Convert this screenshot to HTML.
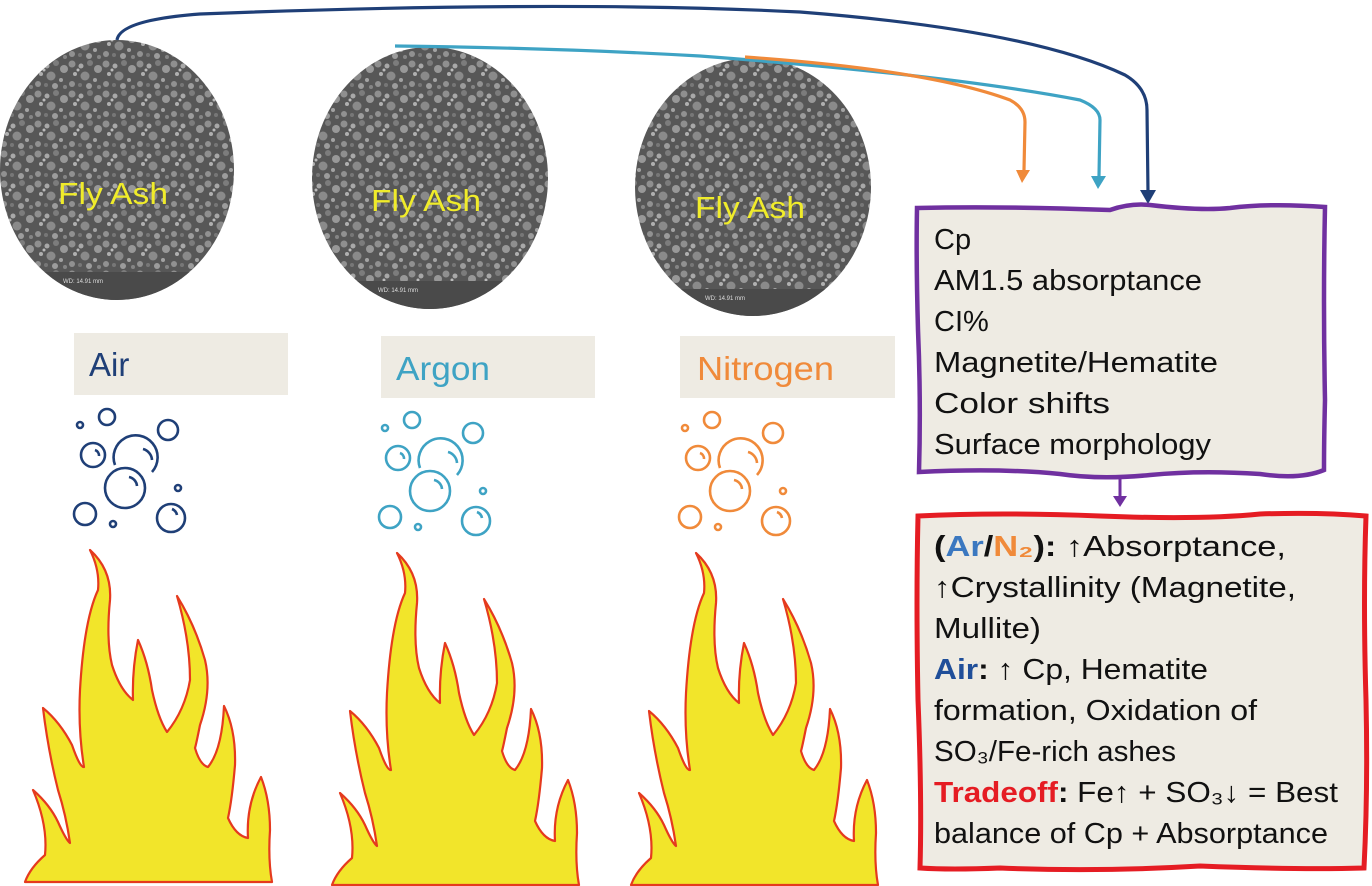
<!DOCTYPE html>
<html><head><meta charset="utf-8"><style>
html,body{margin:0;padding:0;background:#fff;}
svg{display:block;}
text{font-family:"Liberation Sans",sans-serif;}
</style></head><body>
<svg width="1372" height="886" viewBox="0 0 1372 886" xmlns="http://www.w3.org/2000/svg">
<defs>
<pattern id="sem" width="34" height="30" patternUnits="userSpaceOnUse">
<rect width="34" height="30" fill="#575757"/>
<circle cx="4" cy="4" r="3.5" fill="#8f8f8f"/>
<circle cx="13" cy="6" r="2.5" fill="#a8a8a8"/>
<circle cx="22" cy="3" r="3" fill="#7c7c7c"/>
<circle cx="30" cy="9" r="4" fill="#989898"/>
<circle cx="7" cy="14" r="2" fill="#b0b0b0"/>
<circle cx="17" cy="16" r="4.5" fill="#8a8a8a"/>
<circle cx="27" cy="20" r="2" fill="#a3a3a3"/>
<circle cx="4" cy="24" r="3" fill="#919191"/>
<circle cx="12" cy="25" r="2" fill="#777"/>
<circle cx="21" cy="26" r="3" fill="#9c9c9c"/>
<circle cx="31" cy="27" r="2" fill="#858585"/>
<circle cx="10" cy="10" r="1.5" fill="#bbb"/>
</pattern>
<g id="flame">
<path d="M25,882 Q30,868 45,855 Q48,825 33,790 Q50,805 58,822 Q66,840 70,843 Q66,815 58,790 Q48,750 43,708 Q60,722 72,745 Q80,768 84,767 Q78,730 80,690 Q84,620 98,590 Q100,570 90,550 Q112,570 110,600 Q106,640 112,665 Q120,690 133,700 Q132,670 138,640 Q148,662 152,690 Q158,718 167,732 Q185,710 190,680 Q190,640 177,596 Q195,625 205,660 Q212,690 200,725 Q196,745 195,748 Q200,765 208,767 Q222,750 224,706 Q236,730 235,765 Q232,800 228,818 Q236,836 248,838 Q246,805 261,777 Q270,800 270,830 Q268,860 272,882 Z" fill="#f2e52a" stroke="#e53a1e" stroke-width="2.2" stroke-linejoin="round"/>
</g>
<g id="bub" fill="none" stroke-width="2.6">
<circle cx="80" cy="425" r="3"/>
<circle cx="107" cy="417" r="8"/>
<circle cx="168" cy="430" r="10"/>
<circle cx="93" cy="455" r="12"/>
<path d="M115,465 A22,22 0 1 1 152,472"/>
<circle cx="125" cy="488" r="20"/>
<circle cx="178" cy="488" r="3"/>
<circle cx="85" cy="514" r="11"/>
<circle cx="113" cy="524" r="3"/>
<circle cx="171" cy="518" r="14"/>
<path d="M95,450 A6,6 0 0 1 99,456"/>
<path d="M143,449 A12,12 0 0 1 152,460"/>
<path d="M129,477 A10,10 0 0 1 137,486"/>
<path d="M172,509 A8,8 0 0 1 177,515"/>
</g>
<clipPath id="c1"><ellipse cx="117" cy="170" rx="117" ry="130"/></clipPath>
<clipPath id="c2"><ellipse cx="430" cy="178" rx="118" ry="131"/></clipPath>
<clipPath id="c3"><ellipse cx="753" cy="187" rx="118" ry="129"/></clipPath>
</defs>

<g clip-path="url(#c1)"><rect x="0" y="40" width="236" height="262" fill="url(#sem)"/><rect x="0" y="272" width="236" height="35" fill="#4a4a4a"/><text x="63" y="283" font-size="6" fill="#ddd">WD: 14.91 mm</text></g>
<g clip-path="url(#c2)"><rect x="312" y="47" width="238" height="264" fill="url(#sem)"/><rect x="312" y="281" width="238" height="35" fill="#4a4a4a"/><text x="378" y="292" font-size="6" fill="#ddd">WD: 14.91 mm</text></g>
<g clip-path="url(#c3)"><rect x="635" y="58" width="238" height="260" fill="url(#sem)"/><rect x="635" y="289" width="238" height="35" fill="#4a4a4a"/><text x="705" y="300" font-size="6" fill="#ddd">WD: 14.91 mm</text></g>
<text x="58" y="204" font-size="31" fill="#f0ec2a" textLength="110" lengthAdjust="spacingAndGlyphs">Fly Ash</text>
<text x="371" y="211" font-size="31" fill="#f0ec2a" textLength="110" lengthAdjust="spacingAndGlyphs">Fly Ash</text>
<text x="695" y="218" font-size="31" fill="#f0ec2a" textLength="110" lengthAdjust="spacingAndGlyphs">Fly Ash</text>

<rect x="74" y="333" width="214" height="62" fill="#eeebe3"/>
<text x="89" y="376" font-size="33" fill="#1f3f77">Air</text>
<rect x="381" y="336" width="214" height="62" fill="#eeebe3"/>
<text x="396" y="380" font-size="33" fill="#3ea3c4" textLength="94" lengthAdjust="spacingAndGlyphs">Argon</text>
<rect x="680" y="336" width="215" height="62" fill="#eeebe3"/>
<text x="697" y="380" font-size="33" fill="#f08a3a" textLength="137" lengthAdjust="spacingAndGlyphs">Nitrogen</text>

<use href="#bub" stroke="#1f3f77"/>
<use href="#bub" stroke="#3ea3c4" transform="translate(305,3)"/>
<use href="#bub" stroke="#f08a3a" transform="translate(605,3)"/>

<use href="#flame"/>
<use href="#flame" transform="translate(307,3)"/>
<use href="#flame" transform="translate(606,3)"/>

<path d="M117,40 Q120,20 200,14 Q560,0 800,12 Q1030,30 1125,75 Q1147,88 1147,110 L1148,192" fill="none" stroke="#1f3f77" stroke-width="3.2"/>
<path d="M1140,190 L1148,204 L1156,190 Z" fill="#1f3f77"/>
<path d="M395,46 Q560,48 700,56 Q950,75 1080,100 Q1100,108 1100,120 L1099,176" fill="none" stroke="#3ea3c4" stroke-width="3.2"/>
<path d="M1091,176 L1098,189 L1106,176 Z" fill="#3ea3c4"/>
<path d="M745,57 Q930,70 1010,100 Q1025,108 1025,122 L1024,170" fill="none" stroke="#f08a3a" stroke-width="3.2"/>
<path d="M1016,170 L1022,183 L1030,170 Z" fill="#f08a3a"/>

<path d="M917,208 Q1000,206 1110,210 Q1130,203 1150,205 Q1200,211 1230,208 Q1270,203 1325,207 Q1323,300 1325,400 Q1324,440 1324,470 Q1300,480 1260,474 Q1200,470 1150,475 Q1100,480 1060,474 Q1000,468 919,472 Q921,400 918,330 Q916,260 917,208 Z" fill="#eeebe3" stroke="#7030a0" stroke-width="4.5"/>
<g font-size="29" fill="#111">
<text x="934" y="249">Cp</text>
<text x="934" y="290" textLength="268" lengthAdjust="spacingAndGlyphs">AM1.5 absorptance</text>
<text x="934" y="331">CI%</text>
<text x="934" y="372" textLength="284" lengthAdjust="spacingAndGlyphs">Magnetite/Hematite</text>
<text x="934" y="413" textLength="176" lengthAdjust="spacingAndGlyphs">Color shifts</text>
<text x="934" y="454" textLength="277" lengthAdjust="spacingAndGlyphs">Surface morphology</text>
</g>
<line x1="1120" y1="476" x2="1120" y2="500" stroke="#7030a0" stroke-width="3"/>
<path d="M1113,496 L1120,507 L1127,496 Z" fill="#7030a0"/>

<path d="M918,516 Q1000,512 1100,516 Q1200,520 1260,514 Q1320,512 1366,516 Q1363,600 1366,700 Q1368,790 1364,868 Q1300,870 1200,866 Q1100,872 1000,868 Q950,870 920,868 Q922,800 918,700 Q916,600 918,516 Z" fill="#eeebe3" stroke="#e51c23" stroke-width="5"/>
<g font-size="29" fill="#111">
<text x="934" y="556" textLength="352" lengthAdjust="spacingAndGlyphs"><tspan font-weight="bold">(</tspan><tspan font-weight="bold" fill="#3b78c0">Ar</tspan><tspan font-weight="bold">/</tspan><tspan font-weight="bold" fill="#f08a3a">N₂</tspan><tspan font-weight="bold">):</tspan> ↑Absorptance,</text>
<text x="934" y="597" textLength="362" lengthAdjust="spacingAndGlyphs">↑Crystallinity (Magnetite,</text>
<text x="934" y="638" textLength="107" lengthAdjust="spacingAndGlyphs">Mullite)</text>
<text x="934" y="679" textLength="274" lengthAdjust="spacingAndGlyphs"><tspan font-weight="bold" fill="#1f4e99">Air</tspan><tspan font-weight="bold">:</tspan> ↑ Cp, Hematite</text>
<text x="934" y="720" textLength="323" lengthAdjust="spacingAndGlyphs">formation, Oxidation of</text>
<text x="934" y="761" textLength="242" lengthAdjust="spacingAndGlyphs">SO₃/Fe-rich ashes</text>
<text x="934" y="802" textLength="404" lengthAdjust="spacingAndGlyphs"><tspan font-weight="bold" fill="#e51c23">Tradeoff</tspan><tspan font-weight="bold">:</tspan> Fe↑ + SO₃↓ = Best</text>
<text x="934" y="843" textLength="394" lengthAdjust="spacingAndGlyphs">balance of Cp + Absorptance</text>
</g>
</svg>
</body></html>
